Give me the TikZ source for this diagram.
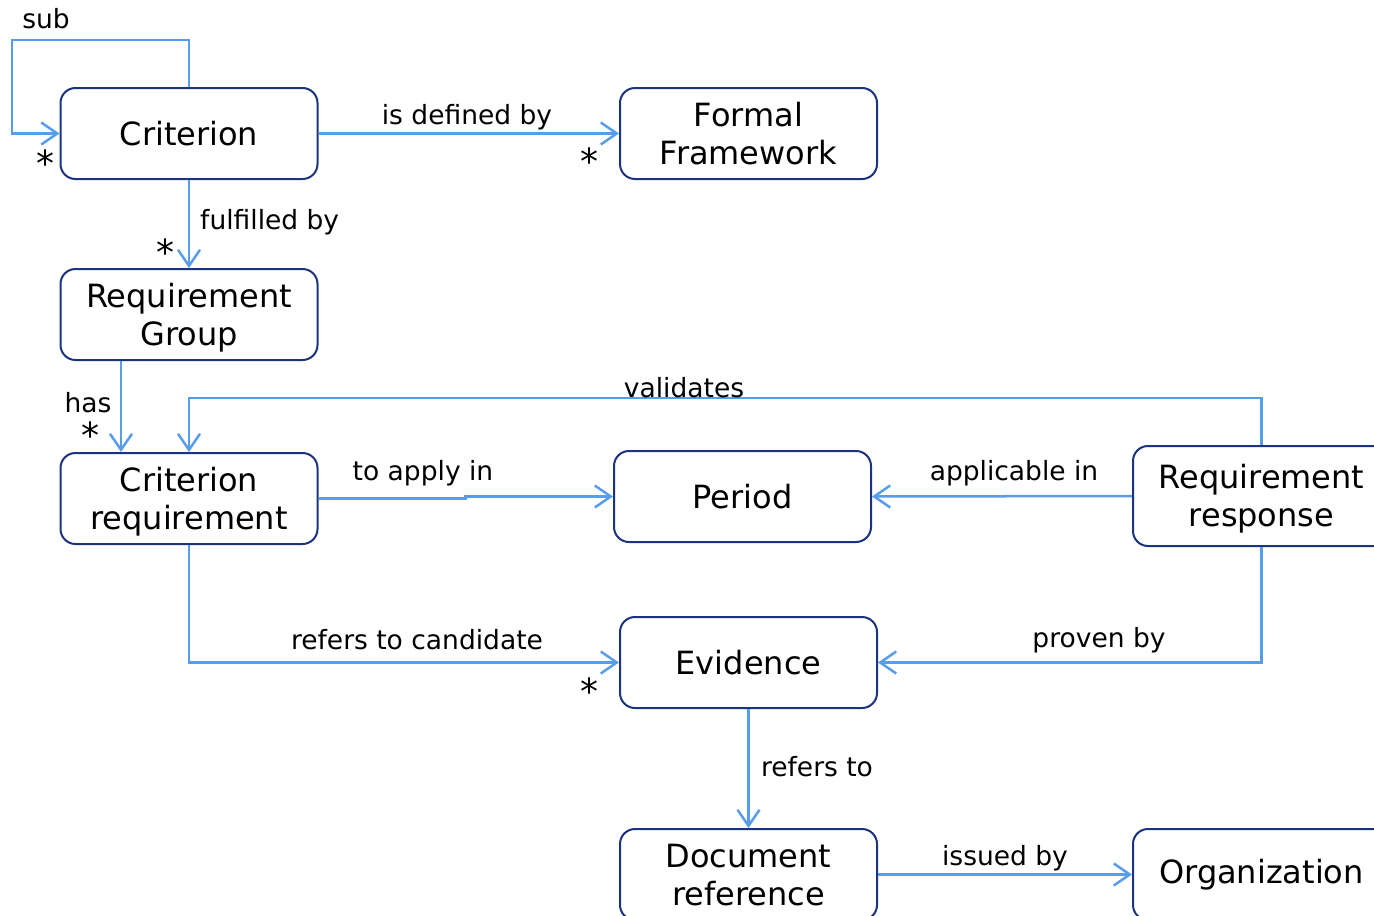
\documentclass[tikz,border=0pt]{standalone}
\usepackage{fontspec}
\setmainfont{DejaVu Sans}
\usetikzlibrary{arrows.meta,calc}
\definecolor{edgeblue}{RGB}{88,156,236}
\definecolor{boxnavy}{RGB}{28,52,128}
\begin{document}
\begin{tikzpicture}[x=1pt,y=-1pt,
  box/.style={draw=boxnavy,line width=2pt,rounded corners=15pt,fill=white,
    minimum width=257pt,minimum height=91pt,align=center,inner sep=0pt,
    font=\fontsize{32}{38}\selectfont},
  two/.style={text height=63pt,text depth=2pt},
  edge/.style={draw=edgeblue,line width=2.5pt},
  arr/.style={edge,-{Straight Barb[length=16pt,width=22pt,line width=2.5pt]}},
  lbl/.style={inner sep=0pt,font=\fontsize{26.5}{31}\selectfont},
  mult/.style={inner sep=0pt,font=\fontsize{36}{36}\selectfont}]
\useasboundingbox (0,0) rectangle (1374,916);
\clip (0,0) rectangle (1374,916);
\fill[white] (0,0) rectangle (1374,916);
% boxes
\node[box] (crit) at (189,133.5) {Criterion};
\node[box,two] (ff) at (748.5,133.5) {Formal\\Framework};
\node[box,two] (rg) at (189,314.5) {Requirement\\Group};
\node[box,two] (cr) at (189,498.5) {Criterion\\requirement};
\node[box] (per) at (742.5,496.5) {Period};
\node[box,two,minimum height=100pt] (rr) at (1261.5,496) {Requirement\\response};
\node[box] (ev) at (748.5,662.5) {Evidence};
\node[box,two] (dr) at (748.5,874.5) {Document\\reference};
\node[box] (org) at (1261.5,874.5) {\raisebox{-2pt}{Organization}};
% coordinates
\coordinate (s1) at (12,40);
\coordinate (v1) at (189,398);
% edges
\draw[arr] (crit.north) |- (s1) |- (crit.west);
\draw[arr] (crit.east) -- (ff.west);
\draw[arr] (crit.south) -- (rg.north);
\draw[arr] ([xshift=-68pt]rg.south) -- ([xshift=-68pt]cr.north);
\draw[arr] (rr.north) |- (v1) -- (cr.north);
\draw[arr] (cr.east) -- ++(147,0) |- (per.west);
\draw[arr] (rr.west) -- (per.east);
\draw[arr] (cr.south) |- (ev.west);
\draw[arr] (rr.south) |- (ev.east);
\draw[arr] (ev.south) -- (dr.north);
\draw[arr] (dr.east) -- (org.west);
% labels
\node[lbl] (l1) at (46,19) {sub};
\node[lbl] (l2) at (467,117) {is defined by};
\node[lbl,anchor=west] (l3) at (200,222) {fulfilled by};
\node[lbl] (l4) at (88,403) {has};
\node[lbl] (l5) at (684,388) {validates};
\node[lbl] (l6) at (423,473) {to apply in};
\node[lbl] (l7) at (1014,473) {applicable in};
\node[lbl] (l8) at (417,640) {refers to candidate};
\node[lbl] (l9) at (1099,640) {proven by};
\node[lbl] (l10) at (817,767) {refers to};
\node[lbl] (l11) at (1005,858) {issued by};
% multiplicities
\node[mult] (m1) at (45,163) {*};
\node[mult] (m2) at (589,161) {*};
\node[mult] (m3) at (165,252) {*};
\node[mult] (m4) at (90,435) {*};
\node[mult] (m5) at (589,691) {*};
\end{tikzpicture}
\end{document}
